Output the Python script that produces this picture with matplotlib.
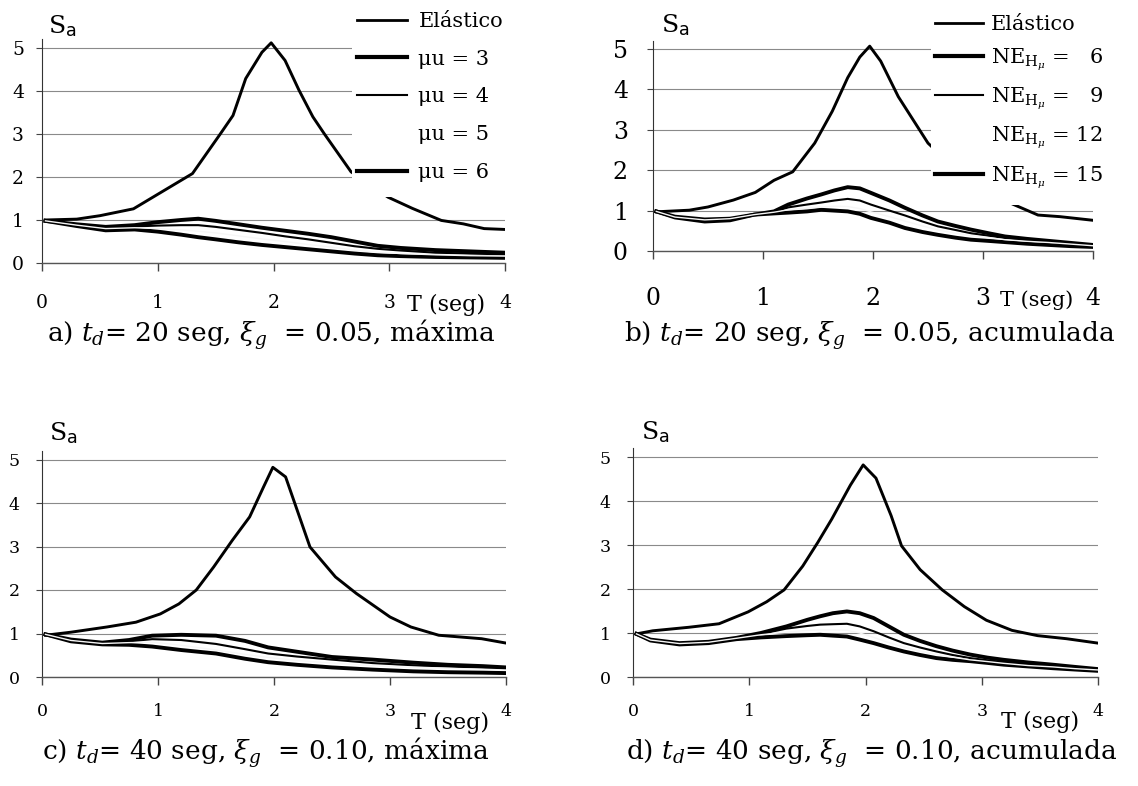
import matplotlib
matplotlib.use("Agg")
import matplotlib.pyplot as plt
from matplotlib.patches import Rectangle
from matplotlib.lines import Line2D

# ---------------- data ----------------
# Panel a (t_d = 20 s, xi = 0.05, maxima)
Ta_el = [0.03, 0.3, 0.5, 0.79, 1.02, 1.3, 1.54, 1.65, 1.76, 1.9, 1.98, 2.1, 2.22, 2.34, 2.44, 2.67, 2.99, 3.2, 3.45, 3.64, 3.82, 4.0]
Sa_a_el = [1.0, 1.02, 1.1, 1.26, 1.63, 2.08, 3.0, 3.43, 4.29, 4.9, 5.12, 4.71, 4.02, 3.4, 3.0, 2.12, 1.53, 1.27, 0.99, 0.91, 0.8, 0.78]
Ta_in = [0.03, 0.3, 0.55, 0.8, 1.0, 1.2, 1.35, 1.5, 1.7, 1.9, 2.1, 2.3, 2.5, 2.7, 2.9, 3.1, 3.4, 3.7, 4.0]
Sa_a_mu3 = [0.98, 0.9, 0.84, 0.88, 0.95, 1.0, 1.03, 0.98, 0.9, 0.82, 0.75, 0.68, 0.6, 0.5, 0.4, 0.35, 0.3, 0.27, 0.24]
Sa_a_mu4 = [0.98, 0.89, 0.82, 0.85, 0.87, 0.88, 0.88, 0.84, 0.77, 0.7, 0.62, 0.55, 0.47, 0.39, 0.33, 0.29, 0.24, 0.22, 0.2]
Sa_a_mu5 = [0.98, 0.88, 0.8, 0.82, 0.8, 0.77, 0.74, 0.7, 0.63, 0.56, 0.5, 0.43, 0.37, 0.3, 0.25, 0.22, 0.19, 0.17, 0.16]
Sa_a_mu6 = [0.98, 0.86, 0.76, 0.78, 0.73, 0.66, 0.6, 0.55, 0.48, 0.42, 0.37, 0.32, 0.27, 0.22, 0.18, 0.16, 0.14, 0.13, 0.12]

# Panel b (t_d = 20 s, xi = 0.05, acumulada)
Tb_el = [0.03, 0.33, 0.5, 0.73, 0.93, 1.1, 1.27, 1.47, 1.63, 1.77, 1.88, 1.97, 2.07, 2.23, 2.5, 2.8, 3.05, 3.27, 3.5, 3.7, 4.0]
Sa_b_el = [0.97, 1.01, 1.09, 1.26, 1.45, 1.75, 1.96, 2.67, 3.46, 4.29, 4.8, 5.07, 4.7, 3.82, 2.67, 1.9, 1.45, 1.16, 0.89, 0.85, 0.76]
Tb_in = [0.03, 0.2, 0.47, 0.7, 0.92, 1.1, 1.23, 1.4, 1.53, 1.65, 1.77, 1.88, 1.98, 2.15, 2.29, 2.45, 2.59, 2.75, 2.89, 3.05, 3.2, 3.4, 3.6, 3.8, 4.0]
Sa_b_ne6 = [0.98, 0.85, 0.78, 0.8, 0.9, 0.98, 1.15, 1.3, 1.4, 1.5, 1.58, 1.55, 1.44, 1.25, 1.07, 0.88, 0.73, 0.62, 0.53, 0.44, 0.36, 0.3, 0.25, 0.2, 0.15]
Sa_b_ne9 = [0.98, 0.85, 0.78, 0.8, 0.9, 0.97, 1.08, 1.15, 1.2, 1.25, 1.29, 1.25, 1.15, 1.0, 0.88, 0.73, 0.61, 0.52, 0.44, 0.38, 0.32, 0.27, 0.23, 0.19, 0.15]
Sa_b_ne12 = [0.98, 0.84, 0.77, 0.8, 0.9, 0.96, 1.02, 1.06, 1.09, 1.11, 1.1, 1.05, 0.97, 0.85, 0.74, 0.62, 0.52, 0.44, 0.38, 0.33, 0.28, 0.24, 0.21, 0.17, 0.13]
Sa_b_ne15 = [0.98, 0.83, 0.73, 0.76, 0.9, 0.93, 0.95, 0.98, 1.02, 1.0, 0.98, 0.92, 0.82, 0.7, 0.57, 0.47, 0.4, 0.33, 0.28, 0.25, 0.22, 0.18, 0.15, 0.12, 0.1]

# Panel c (t_d = 40 s, xi = 0.10, maxima)
Tc_el = [0.03, 0.25, 0.56, 0.81, 1.02, 1.18, 1.33, 1.48, 1.64, 1.79, 1.91, 1.99, 2.1, 2.19, 2.31, 2.53, 2.71, 3.0, 3.18, 3.42, 3.79, 4.0]
Sa_c_el = [0.96, 1.03, 1.15, 1.26, 1.45, 1.68, 2.0, 2.53, 3.14, 3.68, 4.37, 4.82, 4.6, 3.91, 2.99, 2.3, 1.92, 1.38, 1.15, 0.96, 0.88, 0.78]
Tc_in = [0.03, 0.25, 0.52, 0.75, 0.95, 1.2, 1.5, 1.75, 1.95, 2.2, 2.5, 2.85, 3.2, 3.5, 3.8, 4.0]
Sa_c_mu3 = [0.98, 0.86, 0.79, 0.85, 0.95, 0.97, 0.95, 0.83, 0.68, 0.58, 0.46, 0.4, 0.33, 0.28, 0.25, 0.22]
Sa_c_mu4 = [0.98, 0.85, 0.78, 0.82, 0.87, 0.85, 0.76, 0.64, 0.54, 0.47, 0.4, 0.32, 0.27, 0.24, 0.21, 0.19]
Sa_c_mu5 = [0.98, 0.84, 0.77, 0.79, 0.8, 0.73, 0.62, 0.52, 0.45, 0.38, 0.32, 0.26, 0.22, 0.2, 0.18, 0.16]
Sa_c_mu6 = [0.98, 0.82, 0.75, 0.74, 0.7, 0.62, 0.54, 0.42, 0.34, 0.28, 0.22, 0.17, 0.13, 0.11, 0.1, 0.09]

# Panel d (t_d = 40 s, xi = 0.10, acumulada)
Td_el = [0.03, 0.17, 0.48, 0.74, 0.99, 1.15, 1.3, 1.46, 1.59, 1.71, 1.87, 1.98, 2.09, 2.22, 2.31, 2.47, 2.66, 2.85, 3.04, 3.26, 3.48, 3.73, 4.0]
Sa_d_el = [0.98, 1.05, 1.13, 1.21, 1.48, 1.71, 1.98, 2.52, 3.06, 3.59, 4.36, 4.82, 4.52, 3.67, 2.98, 2.44, 1.98, 1.6, 1.29, 1.06, 0.94, 0.87, 0.77]
Td_in = [0.03, 0.15, 0.4, 0.65, 0.89, 1.1, 1.32, 1.5, 1.61, 1.72, 1.84, 1.95, 2.07, 2.2, 2.33, 2.47, 2.61, 2.75, 2.9, 3.05, 3.19, 3.4, 3.61, 3.8, 4.0]
Sa_d_ne6 = [0.98, 0.85, 0.77, 0.8, 0.89, 1.0, 1.15, 1.3, 1.38, 1.45, 1.49, 1.45, 1.34, 1.15, 0.96, 0.82, 0.7, 0.6, 0.51, 0.44, 0.39, 0.33, 0.28, 0.23, 0.18]
Sa_d_ne9 = [0.98, 0.85, 0.77, 0.8, 0.89, 0.98, 1.1, 1.16, 1.19, 1.2, 1.21, 1.15, 1.04, 0.9, 0.77, 0.67, 0.58, 0.5, 0.43, 0.38, 0.34, 0.29, 0.25, 0.21, 0.17]
Sa_d_ne12 = [0.98, 0.84, 0.76, 0.79, 0.88, 0.96, 1.02, 1.06, 1.07, 1.07, 1.06, 1.0, 0.9, 0.78, 0.68, 0.59, 0.51, 0.45, 0.39, 0.35, 0.31, 0.26, 0.23, 0.19, 0.16]
Sa_d_ne15 = [0.98, 0.83, 0.74, 0.77, 0.86, 0.9, 0.93, 0.95, 0.96, 0.94, 0.92, 0.85, 0.77, 0.67, 0.58, 0.5, 0.43, 0.39, 0.36, 0.32, 0.28, 0.24, 0.2, 0.17, 0.14]

x_ticks = [0, 1, 2, 3, 4]
y_ticks = [0, 1, 2, 3, 4, 5]
labels_max = ['Elástico', 'μu = 3', 'μu = 4', 'μu = 5', 'μu = 6']
labels_acc = ['Elástico', r'NE$_{\mathrm{H}_{\mu}}$ =   6', r'NE$_{\mathrm{H}_{\mu}}$ =   9',
              r'NE$_{\mathrm{H}_{\mu}}$ = 12', r'NE$_{\mathrm{H}_{\mu}}$ = 15']
captions = [r'a) $t_d$= 20 seg, $\xi_g$  = 0.05, máxima',
            r'b) $t_d$= 20 seg, $\xi_g$  = 0.05, acumulada',
            r'c) $t_d$= 40 seg, $\xi_g$  = 0.10, máxima',
            r'd) $t_d$= 40 seg, $\xi_g$  = 0.10, acumulada']

# ---------------- style ----------------
plt.rcParams['font.family'] = ['DejaVu Serif']
plt.rcParams['mathtext.fontset'] = 'dejavuserif'

W, H = 1138, 786
fig = plt.figure(figsize=(W / 100, H / 100), dpi=100)
fig.patch.set_facecolor('white')

YMAX = 5.2
LWS = [2.1, 2.8, 1.5, 1.0, 2.8]
COLS = ['black', 'black', 'black', '#f6f6f6', 'black']


def make_axes(left, right, y0, ppu):
    return fig.add_axes([left / W, 1 - y0 / H, (right - left) / W, YMAX * ppu / H])


def style_axes(ax, tick_fs, xpad, ypad):
    ax.set_xlim(0, 4)
    ax.set_ylim(0, YMAX)
    for s in ['top', 'right']:
        ax.spines[s].set_visible(False)
    ax.spines['left'].set_color('#333333')
    ax.spines['left'].set_linewidth(0.8)
    ax.spines['bottom'].set_color('#555555')
    ax.spines['bottom'].set_linewidth(1.0)
    ax.set_xticks(x_ticks)
    ax.set_xticklabels([str(t) for t in x_ticks])
    ax.set_yticks(y_ticks)
    ax.set_yticklabels([str(t) for t in y_ticks])
    ax.tick_params(axis='x', direction='out', length=6, width=1.0, color='#444444',
                   labelsize=tick_fs, pad=xpad)
    ax.tick_params(axis='y', direction='out', length=4, width=0.8, color='#444444',
                   labelsize=tick_fs, pad=ypad)
    ax.yaxis.grid(True, color='#8a8a8a', linewidth=0.8)
    ax.set_axisbelow(True)


def draw(ax, T_el, el, T_in, series):
    h = [ax.plot(T_el, el, color=COLS[0], lw=LWS[0], solid_joinstyle='round')[0]]
    for i, s in enumerate(series):
        h.append(ax.plot(T_in, s, color=COLS[i + 1], lw=LWS[i + 1],
                         solid_joinstyle='round', zorder=3 if i != 2 else 4)[0])
    return h


# panel a
axa = make_axes(42, 505, 263, 43.0)
style_axes(axa, 13.5, 16, 9)
draw(axa, Ta_el, Sa_a_el, Ta_in, [Sa_a_mu3, Sa_a_mu4, Sa_a_mu5, Sa_a_mu6])

# panel b
axb = make_axes(653, 1093, 251, 40.4)
style_axes(axb, 17, 20, 14)
draw(axb, Tb_el, Sa_b_el, Tb_in, [Sa_b_ne6, Sa_b_ne9, Sa_b_ne12, Sa_b_ne15])

# panel c
axc = make_axes(42, 506, 677, 43.5)
style_axes(axc, 12.5, 13, 12)
draw(axc, Tc_el, Sa_c_el, Tc_in, [Sa_c_mu3, Sa_c_mu4, Sa_c_mu5, Sa_c_mu6])

# panel d
axd = make_axes(633, 1098, 677, 44.0)
style_axes(axd, 12.5, 13, 12)
draw(axd, Td_el, Sa_d_el, Td_in, [Sa_d_ne6, Sa_d_ne9, Sa_d_ne12, Sa_d_ne15])

# white legend backgrounds (cover gridlines & curves as in the original)
fig.add_artist(Rectangle((352 / W, 1 - 197 / H), (560 - 352) / W, 197 / H,
                         transform=fig.transFigure, facecolor='white', edgecolor='none', zorder=2))
fig.add_artist(Rectangle((931 / W, 1 - 205 / H), (W - 931) / W, 205 / H,
                         transform=fig.transFigure, facecolor='white', edgecolor='none', zorder=2))


def legend_handles(lws):
    cols = ['black', 'black', 'black', 'white', 'black']
    return [Line2D([0], [0], color=c, lw=w) for c, w in zip(cols, lws)]


lega = fig.legend(legend_handles([2.0, 3.0, 1.5, 1.0, 3.0]), labels_max,
                  loc='upper left', bbox_to_anchor=(357 / W, 1 - 12 / H),
                  frameon=False, fontsize=15, handlelength=2.4, handletextpad=0.55,
                  labelspacing=0.9, borderpad=0, borderaxespad=0)
lega.set_zorder(5)
legb = fig.legend(legend_handles([2.0, 3.0, 1.5, 1.0, 3.0]), labels_acc,
                  loc='upper left', bbox_to_anchor=(935 / W, 1 - 15 / H),
                  frameon=False, fontsize=15, handlelength=2.3, handletextpad=0.4,
                  labelspacing=0.6, borderpad=0, borderaxespad=0)
legb.set_zorder(5)

# S_a labels
for (x, y) in [(62, 26), (675, 25), (63, 433), (655, 432)]:
    fig.text(x / W, 1 - y / H, r'S$_{\mathsf{a}}$', fontsize=18, ha='center', va='center')

# T (seg) labels
for (x, y, fs) in [(446, 305, 16), (1037, 300, 15), (450, 723, 16), (1040, 722, 16)]:
    fig.text(x / W, 1 - y / H, 'T (seg)', fontsize=fs, ha='center', va='center')

# captions
for (x, y), cap in zip([(271, 342), (870, 342), (266, 760), (872, 760)], captions):
    fig.text(x / W, 1 - y / H, cap, fontsize=19, ha='center', va='baseline')

fig.savefig('out.png', dpi=100, facecolor='white')
